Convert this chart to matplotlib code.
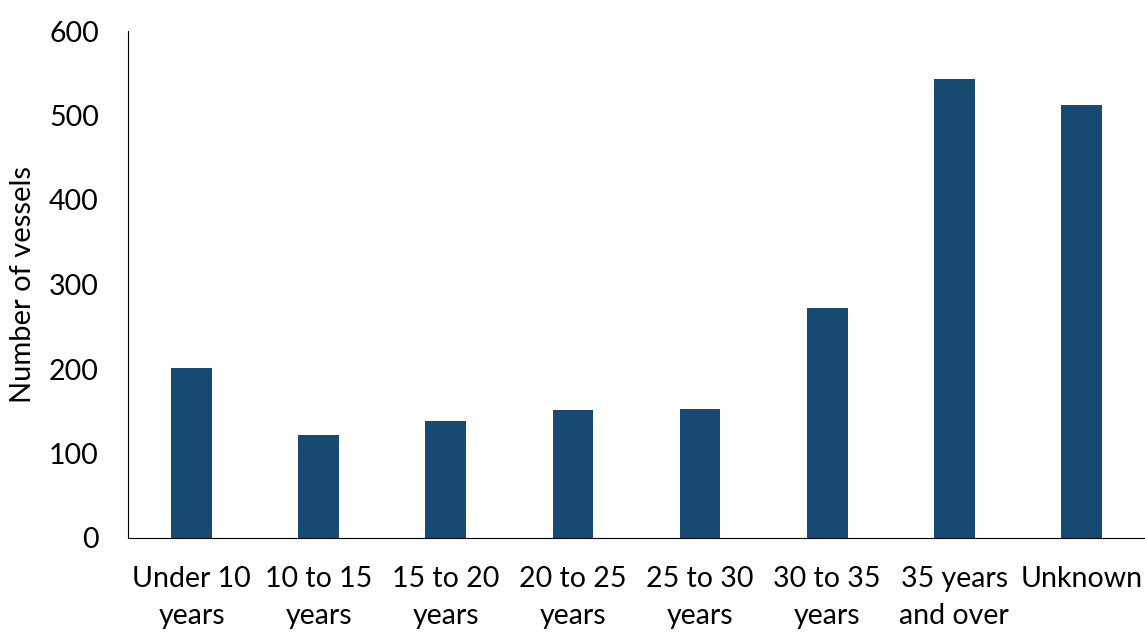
import matplotlib.pyplot as plt
import numpy as np

plt.rcParams['font.family'] = ['Lato', 'DejaVu Sans']

categories = ["Under 10\nyears", "10 to 15\nyears", "15 to 20\nyears", "20 to 25\nyears",
              "25 to 30\nyears", "30 to 35\nyears", "35 years\nand over", "Unknown"]
vessels = [201, 122, 138, 151, 153, 272, 543, 512]

fig = plt.figure(figsize=(11.45, 6.32), dpi=100)
ax = fig.add_axes([128 / 1145, 94 / 632, 1017 / 1145, 507 / 632])

x = np.arange(len(categories))
ax.bar(x, vessels, width=0.32, color="#164a70")

ax.set_xlim(-0.5, len(categories) - 0.5)
ax.set_ylim(0, 600)
ax.set_yticks(range(0, 601, 100))
ax.set_xticks(x)
ax.set_xticklabels(categories, fontsize=20.5, linespacing=1.55, va="top")
ax.tick_params(axis="y", labelsize=20.5, length=0, pad=21)
ax.tick_params(axis="x", length=0, pad=20)
ax.set_ylabel("Number of vessels", fontsize=21, labelpad=9)

for s in ["top", "right"]:
    ax.spines[s].set_visible(False)
ax.spines["left"].set_color("black")
ax.spines["bottom"].set_color("black")

fig.savefig("out.png", dpi=100)
